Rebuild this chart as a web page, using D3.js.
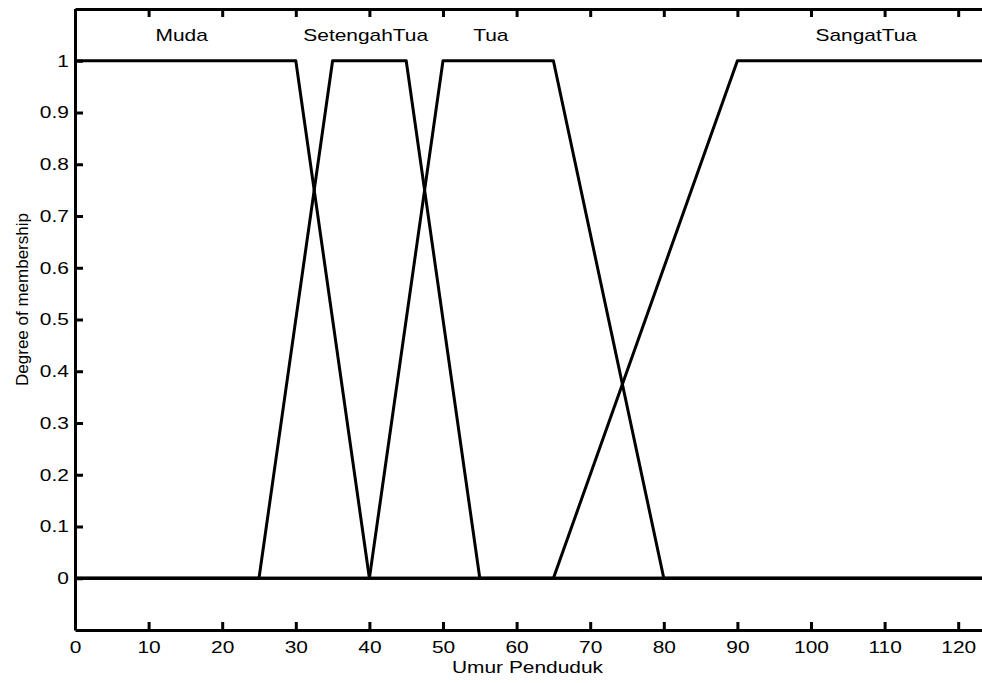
<!DOCTYPE html>
<html>
<head>
<meta charset="utf-8">
<script src="https://cdn.jsdelivr.net/npm/d3@7"></script>
<style>
  body { margin: 0; background: #fff; }
  svg text { font-family: "Liberation Sans", Arial, sans-serif; fill: #000; }
</style>
</head>
<body>
<svg id="mf-chart" width="982" height="683"></svg>
<script>
const svg = d3.select("#mf-chart");

// membership functions of "Umur Penduduk" (trapezoid a, b, c, d)
const setNames = ["Muda", "SetengahTua", "Tua", "SangatTua"];
const setParams = [
  [0, 0, 30, 40],
  [25, 35, 45, 55],
  [40, 50, 65, 80],
  [65, 90, 125, 125]
];
const labelAge = [14.5, 39.5, 56.5, 107.5];

const xTicks = [0, 10, 20, 30, 40, 50, 60, 70, 80, 90, 100, 110, 120];
const yTicks = [0, 0.1, 0.2, 0.3, 0.4, 0.5, 0.6, 0.7, 0.8, 0.9, 1];

const xDomain = [0, 125];
const yDomain = [-0.1, 1.1];

const margin = { top: 9, right: -13, bottom: 53, left: 75 };
const width = 982, height = 683;

const x = d3.scaleLinear().domain(xDomain).range([margin.left, width - margin.right]);
const y = d3.scaleLinear().domain(yDomain).range([height - margin.bottom, margin.top]);

const fontSize = 17;
const stretch = 1.23;   // the source image is a bit wider than tall

// trapezoid vertices across the full universe
function trapPoints(p) {
  const [a, b, c, d] = p;
  const pts = [];
  if (a > xDomain[0]) pts.push([xDomain[0], 0]);
  pts.push([a, a === b ? 1 : 0]);
  pts.push([b, 1]);
  pts.push([c, 1]);
  pts.push([d, c === d ? 1 : 0]);
  if (d < xDomain[1]) pts.push([xDomain[1], 0]);
  return pts;
}

const line = d3.line().x(d => x(d[0])).y(d => y(d[1]));

svg.append("g")
  .selectAll("path")
  .data(setParams)
  .join("path")
  .attr("d", d => line(trapPoints(d)))
  .attr("fill", "none")
  .attr("stroke", "#000")
  .attr("stroke-width", 3)
  .attr("stroke-linejoin", "round");

// axes box and ticks
const tickLen = 8;

svg.append("g")
  .attr("transform", `translate(0,${y(yDomain[0])})`)
  .call(d3.axisBottom(x).tickValues(xTicks).tickSize(-tickLen).tickPadding(tickLen + 3).tickSizeOuter(0))
  .call(g => g.select(".domain").attr("stroke-width", 3))
  .call(g => g.selectAll(".tick line").attr("stroke-width", 3))
  .call(g => g.selectAll(".tick text")
    .attr("font-size", fontSize)
    .attr("font-family", "Liberation Sans, Arial, sans-serif")
    .attr("transform", `scale(${stretch},1)`));

svg.append("g")
  .attr("transform", `translate(0,${y(yDomain[1])})`)
  .call(d3.axisTop(x).tickValues(xTicks).tickSize(-tickLen).tickFormat("").tickSizeOuter(0))
  .call(g => g.select(".domain").attr("stroke-width", 3))
  .call(g => g.selectAll(".tick line").attr("stroke-width", 3));

svg.append("g")
  .attr("transform", `translate(${x(xDomain[0])},0)`)
  .call(d3.axisLeft(y).tickValues(yTicks).tickSize(-tickLen).tickPadding(5).tickSizeOuter(0)
    .tickFormat(d => d3.format("~g")(d)))
  .call(g => g.select(".domain").attr("stroke-width", 3))
  .call(g => g.selectAll(".tick line").attr("stroke-width", 3))
  .call(g => g.selectAll(".tick text")
    .attr("font-size", fontSize)
    .attr("font-family", "Liberation Sans, Arial, sans-serif")
    .attr("transform", `scale(${stretch},1)`));

// set labels
svg.append("g")
  .selectAll("text")
  .data(setNames)
  .join("text")
  .attr("transform", (d, i) => `translate(${x(labelAge[i])},${y(1.05)}) scale(${stretch},1)`)
  .attr("text-anchor", "middle")
  .attr("dy", "0.35em")
  .attr("font-size", fontSize)
  .text(d => d);

// axis titles
svg.append("text")
  .attr("transform", `translate(${(margin.left + 980) / 2},${height - 10}) scale(${stretch},1)`)
  .attr("text-anchor", "middle")
  .attr("font-size", fontSize)
  .text("Umur Penduduk");

svg.append("text")
  .attr("transform", `translate(28,${(y(yDomain[0]) + y(yDomain[1])) / 2 - 20}) rotate(-90)`)
  .attr("text-anchor", "middle")
  .attr("font-size", fontSize)
  .text("Degree of membership");
</script>
</body>
</html>
